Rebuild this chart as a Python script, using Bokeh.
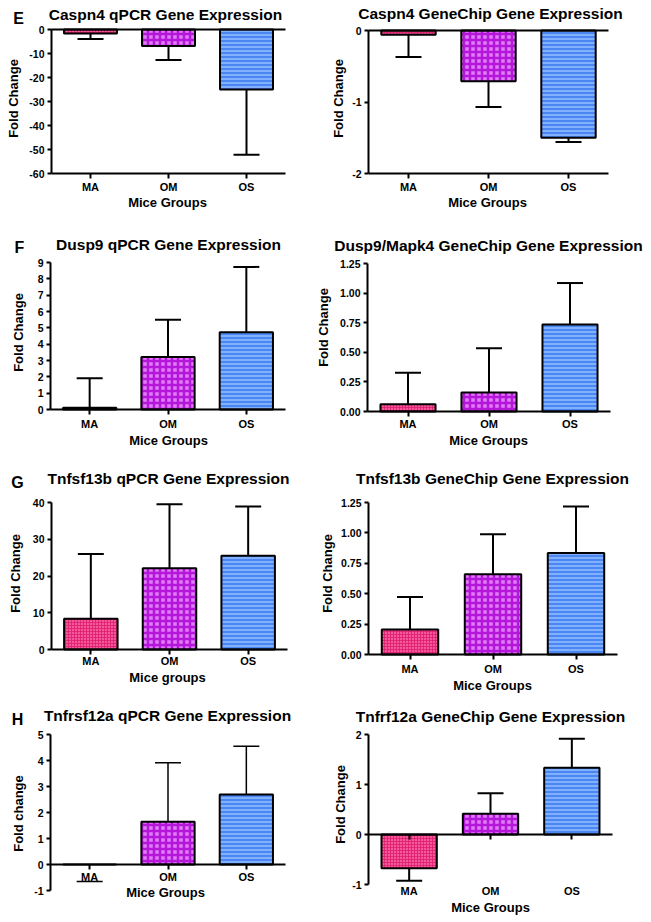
import math
from bokeh.plotting import figure
from bokeh.layouts import column, row
from bokeh.models import (ColumnDataSource, Range1d, FixedTicker, LinearAxis,
                          NumeralTickFormatter, Whisker, TeeHead, Label)
from bokeh.embed import file_html
from bokeh.resources import INLINE

# ---------------- data ----------------
groups = ["MA", "OM", "OS"]

caspn4_qpcr = [-1.7, -6.9, -25.0]
caspn4_qpcr_err = [2.3, 5.8, 27.2]
caspn4_chip = [-0.06, -0.71, -1.50]
caspn4_chip_err = [0.31, 0.36, 0.06]
dusp9_qpcr = [0.1, 3.22, 4.73]
dusp9_qpcr_err = [1.82, 2.27, 4.0]
dusp9_chip = [0.062, 0.16, 0.735]
dusp9_chip_err = [0.265, 0.375, 0.35]
tnfsf13b_qpcr = [8.4, 22.1, 25.5]
tnfsf13b_qpcr_err = [17.6, 17.4, 13.4]
tnfsf13b_chip = [0.205, 0.66, 0.835]
tnfsf13b_chip_err = [0.267, 0.328, 0.382]
tnfrsf12a_qpcr = [0.0, 1.64, 2.69]
tnfrsf12a_qpcr_err = [0.65, 2.27, 1.86]
tnfrf12a_chip = [-0.673, 0.413, 1.333]
tnfrf12a_chip_err = [0.254, 0.414, 0.58]

caspn4_qpcr_ticks = [0, -10, -20, -30, -40, -50, -60]
caspn4_chip_ticks = [0, -1, -2]
dusp9_qpcr_ticks = [0, 1, 2, 3, 4, 5, 6, 7, 8, 9]
dusp9_chip_ticks = [0.0, 0.25, 0.5, 0.75, 1.0, 1.25]
tnfsf13b_qpcr_ticks = [0, 10, 20, 30, 40]
tnfsf13b_chip_ticks = [0.0, 0.25, 0.5, 0.75, 1.0, 1.25]
tnfrsf12a_qpcr_ticks = [-1, 0, 1, 2, 3, 4, 5]
tnfrf12a_chip_ticks = [-1, 0, 1, 2]

titles = ["Caspn4 qPCR Gene Expression", "Caspn4 GeneChip Gene Expression",
          "Dusp9 qPCR Gene Expression", "Dusp9/Mapk4 GeneChip Gene Expression",
          "Tnfsf13b qPCR Gene Expression", "Tnfsf13b GeneChip Gene Expression",
          "Tnfrsf12a qPCR Gene Expression", "Tnfrf12a GeneChip Gene Expression"]
ylabels = ["Fold Change", "Fold Change", "Fold Change", "Fold Change",
           "Fold Change", "Fold Change", "Fold change", "Fold Change"]
xlabels = ["Mice Groups", "Mice Groups", "Mice Groups", "Mice Groups",
           "Mice groups", "Mice Groups", "Mice Groups", "Mice Groups"]
letters = ["E", None, "F", None, "G", None, "H", None]

# ---------------- styles ----------------
FONT = "Liberation Sans"
fill_colors = ["#f5579c", "#e27cf6", "#4b86f2"]
hatch_colors = ["#dc1d6c", "#b416da", "#8fbcff"]
hatch_patterns = ["cross", "cross", "horizontal_line"]
hatch_scales = [3, 6, 4]
hatch_weights = [0.8, 2.5, 1.6]

NG = len(groups)
xpos = [i + 0.5 for i in range(NG)]

COL_X = [0, 310]
COL_W = [310, 340]
ROW_Y = [0, 225, 455, 695]
ROW_H = [225, 230, 240, 226]


def make_panel(vals, errs, ticks, fmt, title, ylab, xlab, letter, geo, r, c):
    (ax_l, ax_r, ytop_px, ybot_px, ymin, ymax, xaxis_at, zero_line, stand,
     tpos, lpos, ypos, xlpos, ewidth, hide_stem) = geo
    fx, fy, W, H = COL_X[c], ROW_Y[r], COL_W[c], ROW_H[r]
    sx = NG / (ax_r - ax_l)
    sy = (ymax - ymin) / (ybot_px - ytop_px)
    x0 = -(ax_l - fx) * sx
    x1 = NG + (fx + W - ax_r) * sx
    y1 = ymax + (ytop_px - fy) * sy
    y0 = ymin - (fy + H - ybot_px) * sy

    p = figure(width=W, height=H, x_range=Range1d(x0, x1), y_range=Range1d(y0, y1),
               output_backend="svg", toolbar_location=None,
               min_border_left=0, min_border_right=0,
               min_border_top=0, min_border_bottom=0)
    p.outline_line_color = None
    p.xgrid.visible = False
    p.ygrid.visible = False
    p.background_fill_color = "white"
    p.border_fill_color = "white"

    src = ColumnDataSource(dict(
        x=xpos, top=vals, fill=fill_colors, hc=hatch_colors,
        hp=hatch_patterns, hs=hatch_scales, hw=hatch_weights))
    p.vbar(x="x", top="top", bottom=0, width=0.68, source=src,
           fill_color="fill", hatch_color="hc", hatch_pattern="hp",
           hatch_scale="hs", hatch_weight="hw",
           line_color="black", line_width=2)

    up = dict(x=[], lo=[], hi=[])
    dn = dict(x=[], lo=[], hi=[])
    dn_hidden = dict(x=[], lo=[], hi=[])
    for g, xv, v, e in zip(groups, xpos, vals, errs):
        if v > 0:
            up["x"].append(xv); up["lo"].append(v); up["hi"].append(v + e)
        elif g in hide_stem:
            dn_hidden["x"].append(xv); dn_hidden["lo"].append(v - e); dn_hidden["hi"].append(v)
        else:
            dn["x"].append(xv); dn["lo"].append(v - e); dn["hi"].append(v)
    if up["x"]:
        p.add_layout(Whisker(source=ColumnDataSource(up), base="x", lower="lo", upper="hi",
                             dimension="height", line_width=ewidth, line_color="black",
                             upper_head=TeeHead(size=26, line_width=ewidth, line_color="black"),
                             lower_head=None, level="glyph"))
    if dn["x"]:
        p.add_layout(Whisker(source=ColumnDataSource(dn), base="x", lower="lo", upper="hi",
                             dimension="height", line_width=ewidth, line_color="black",
                             lower_head=TeeHead(size=26, line_width=ewidth, line_color="black"),
                             upper_head=None, level="glyph"))
    if dn_hidden["x"]:
        p.add_layout(Whisker(source=ColumnDataSource(dn_hidden), base="x", lower="lo", upper="hi",
                             dimension="height", line_width=ewidth, line_alpha=0,
                             lower_head=TeeHead(size=26, line_width=ewidth, line_color="black"),
                             upper_head=None, level="glyph"))

    # y axis (fixed at x = 0, i.e. the left end of the category axis)
    ya = p.yaxis[0]
    ya.fixed_location = 0
    ya.ticker = FixedTicker(ticks=ticks)
    ya.formatter = NumeralTickFormatter(format=fmt)
    ya.bounds = (ymin, ymax)
    ya.axis_line_width = 2
    ya.major_tick_line_width = 2
    ya.major_tick_out = 4
    ya.major_tick_in = 0
    ya.minor_tick_line_color = None
    ya.major_label_standoff = 3
    ya.major_label_text_font = FONT
    ya.major_label_text_font_style = "bold"
    ya.major_label_text_font_size = "10.5px"
    ya.major_label_text_color = "black"

    # category axis
    xa = p.xaxis[0]
    xa.fixed_location = xaxis_at
    xa.ticker = FixedTicker(ticks=xpos)
    xa.major_label_overrides = {xv: g for xv, g in zip(xpos, groups)}
    xa.bounds = (0, NG)
    xa.minor_tick_line_color = None
    xa.major_label_text_font = FONT
    xa.major_label_text_font_style = "bold"
    xa.major_label_text_font_size = "11px"
    xa.major_label_text_color = "black"
    xa.major_label_standoff = stand
    xa.axis_line_width = 2
    xa.major_tick_line_width = 2
    xa.major_tick_out = 5
    xa.major_tick_in = 0
    if zero_line:
        za = LinearAxis(fixed_location=0, bounds=(0, NG), ticker=FixedTicker(ticks=[]),
                        axis_line_width=2, minor_tick_line_color=None)
        p.add_layout(za, "below")

    def lab(text, pos, size, angle=0.0):
        p.add_layout(Label(x=pos[0] - fx, y=fy + H - pos[1], x_units="screen", y_units="screen",
                           text=text, text_align="center", text_baseline="middle",
                           angle=angle, text_font=FONT, text_font_style="bold",
                           text_font_size=size, text_color="black"))

    lab(title, tpos, "15.5px")
    if letter:
        lab(letter, lpos, "16px")
    lab(ylab, ypos, "13px", math.pi / 2)
    lab(xlab, xlpos, "13px")
    return p


# page-pixel geometry: axis left/right x, y of axis top/bottom, y limits,
# x-axis location, label standoff, title/letter/ylabel/xlabel centres, err width
geos = [
    (51, 285, 29, 173, -60, 0, -60, True, 2,
     (165, 14), (18, 18), (13, 98), (167, 202), 2, []),
    (368, 608, 30, 173, -2, 0, -2, True, 2,
     (490, 13), None, (338, 98), (487, 202), 2, []),
    (50, 285, 262, 409, 0, 9, 0, False, 3,
     (168, 244), (19, 247), (18, 332), (168, 440), 2, []),
    (367, 610, 263, 411, 0, 1.25, 0, False, 1,
     (488, 245), None, (323, 327), (488, 440), 2, []),
    (51, 287, 502, 649, 0, 40, 0, False, 0,
     (168, 478), (17, 482), (15, 573), (167, 677), 2, []),
    (368, 617, 502, 654, 0, 1.25, 0, False, 3,
     (492, 478), None, (327, 573), (492, 685), 2, []),
    (50, 285, 734, 890, -1, 5, 0, False, 1,
     (167, 715), (17, 719), (18, 813), (165, 892), 1.5, ["MA"]),
    (368, 612, 734, 884, -1, 2, 0, False, 45,
     (490, 716), None, (340, 804), (490, 907), 2, []),
]

series = [
    (caspn4_qpcr, caspn4_qpcr_err, caspn4_qpcr_ticks, "0"),
    (caspn4_chip, caspn4_chip_err, caspn4_chip_ticks, "0"),
    (dusp9_qpcr, dusp9_qpcr_err, dusp9_qpcr_ticks, "0"),
    (dusp9_chip, dusp9_chip_err, dusp9_chip_ticks, "0.00"),
    (tnfsf13b_qpcr, tnfsf13b_qpcr_err, tnfsf13b_qpcr_ticks, "0"),
    (tnfsf13b_chip, tnfsf13b_chip_err, tnfsf13b_chip_ticks, "0.00"),
    (tnfrsf12a_qpcr, tnfrsf12a_qpcr_err, tnfrsf12a_qpcr_ticks, "0"),
    (tnfrf12a_chip, tnfrf12a_chip_err, tnfrf12a_chip_ticks, "0"),
]

panels = []
for i in range(8):
    v, e, t, f = series[i]
    panels.append(make_panel(v, e, t, f, titles[i], ylabels[i], xlabels[i], letters[i],
                             geos[i], i // 2, i % 2))

layout = column(row(panels[0], panels[1]), row(panels[2], panels[3]),
                row(panels[4], panels[5]), row(panels[6], panels[7]))

open("out.html", "w").write(file_html(layout, INLINE))
